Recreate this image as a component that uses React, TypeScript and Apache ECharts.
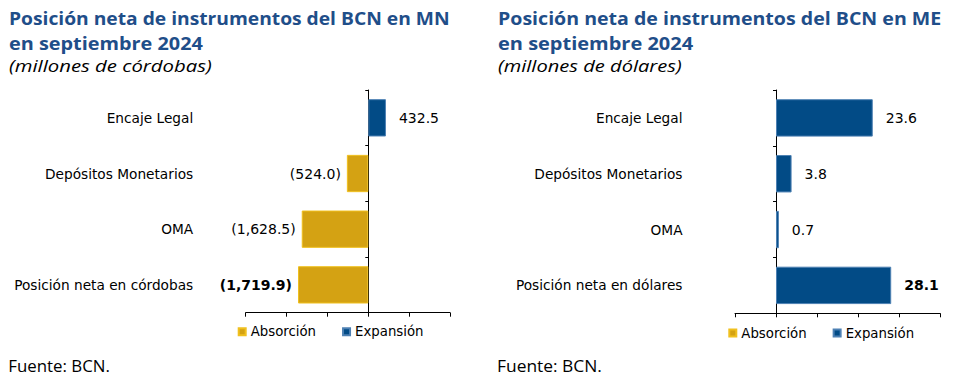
import React, { useEffect, useRef } from "react";
import * as echarts from "echarts";

// ---- data ----
const categoriesMN = ["Encaje Legal", "Depósitos Monetarios", "OMA", "Posición neta en córdobas"];
const valuesMN = [432.5, -524.0, -1628.5, -1719.9];
const categoriesME = ["Encaje Legal", "Depósitos Monetarios", "OMA", "Posición neta en dólares"];
const valuesME = [23.6, 3.8, 0.7, 28.1];
const legendNames = ["Absorción", "Expansión"];
const rangeMN = [-3000, 2000];
const intervalMN = 1000;
const rangeME = [-10, 40];
const intervalME = 10;
const titleMN = ["Posición neta de instrumentos del BCN en MN", "en septiembre 2024"];
const subtitleMN = "(millones de córdobas)";
const titleME = ["Posición neta de instrumentos del BCN en ME", "en septiembre 2024"];
const subtitleME = "(millones de dólares)";
const sourceText = "Fuente: BCN.";

const GOLD = "#d4a213";
const GOLD_BORDER = "#f0c01e";
const BLUE = "#024b86";
const BLUE_BORDER = "#4d80b3";
const TITLE_BLUE = "#1f4e89";
const LABEL_FONT = "'DejaVu Sans', Verdana, sans-serif";
const TITLE_FONT = "'Open Sans', sans-serif";

function fmt(v: number): string {
  const s = Math.abs(v).toLocaleString("en-US", { minimumFractionDigits: 1, maximumFractionDigits: 1 });
  return v < 0 ? "(" + s + ")" : s;
}

let measureCtx: CanvasRenderingContext2D | null = null;
function fitScale(text: string, font: string, target: number): number {
  if (!measureCtx) measureCtx = document.createElement("canvas").getContext("2d");
  if (!measureCtx) return 1;
  measureCtx.font = font;
  const w = measureCtx.measureText(text).width;
  return w > 0 ? target / w : 1;
}

function textEl(text: string, x: number, y: number, size: number, weight: string, style: string, color: string, targetW: number) {
  const font = `${style} ${weight} ${size}px ${TITLE_FONT}`;
  return {
    type: "text",
    x,
    y,
    scaleX: fitScale(text, font, targetW),
    style: {
      text,
      fontFamily: TITLE_FONT,
      fontSize: size,
      fontWeight: weight,
      fontStyle: style,
      fill: color,
      align: "left",
      verticalAlign: "middle",
    },
  };
}

function buildSeries(values: number[], gridIdx: number) {
  const last = values.length - 1;
  const labelBase = {
    show: true,
    fontFamily: LABEL_FONT,
    fontSize: 14,
    color: "#000",
    formatter: (p: any) => fmt(p.value),
  };
  const mk = (keep: (v: number) => boolean) =>
    values.map((v, j) =>
      keep(v) ? { value: v, label: j === last ? { fontWeight: "bold" } : {} } : "-"
    );
  return [
    {
      name: legendNames[0],
      type: "bar",
      xAxisIndex: gridIdx,
      yAxisIndex: gridIdx * 2,
      stack: "s" + gridIdx,
      barCategoryGap: "33%",
      itemStyle: { color: GOLD, borderColor: GOLD_BORDER, borderWidth: 1 },
      label: { ...labelBase, position: "left", distance: 6 },
      data: mk((v) => v < 0),
    },
    {
      name: legendNames[1],
      type: "bar",
      xAxisIndex: gridIdx,
      yAxisIndex: gridIdx * 2,
      stack: "s" + gridIdx,
      barCategoryGap: "33%",
      itemStyle: { color: BLUE, borderColor: BLUE_BORDER, borderWidth: 1 },
      label: { ...labelBase, position: "right", distance: 13 },
      data: mk((v) => v >= 0),
    },
  ];
}

function buildXAxis(gridIndex: number, range: number[], interval: number) {
  return {
    type: "value",
    gridIndex,
    min: range[0],
    max: range[1],
    interval,
    axisLine: { show: true, lineStyle: { color: "#000", width: 1 } },
    axisTick: { show: true, length: 4, lineStyle: { color: "#000" } },
    axisLabel: { show: false },
    splitLine: { show: false },
  };
}

function buildYAxes(gridIndex: number, cats: string[]) {
  return [
    {
      type: "category",
      gridIndex,
      data: cats,
      inverse: true,
      position: "left",
      axisLine: { show: false, onZero: false },
      axisTick: { show: false },
      axisLabel: { margin: 52.5, fontFamily: LABEL_FONT, fontSize: 13.7, color: "#000" },
    },
    {
      type: "category",
      gridIndex,
      data: cats,
      inverse: true,
      position: "left",
      axisLine: { show: true, onZero: true, lineStyle: { color: "#000", width: 1 } },
      axisTick: { show: true, length: 3, lineStyle: { color: "#000" } },
      axisLabel: { show: false },
    },
  ];
}

function buildLegend(left: number, top: number) {
  return {
    left,
    top,
    orient: "horizontal",
    padding: 0,
    itemWidth: 7,
    itemHeight: 7,
    itemGap: 26,
    icon: "rect",
    data: legendNames,
    selectedMode: false,
    textStyle: { fontFamily: LABEL_FONT, fontSize: 13.3, color: "#000", lineHeight: 14 },
  };
}

export default function App() {
  const ref = useRef<HTMLDivElement>(null);
  useEffect(() => {
    if (!ref.current) return;
    const chart = echarts.init(ref.current, undefined, { renderer: "svg" });
    const graphics = [
      textEl(titleMN[0], 9, 17.8, 18.5, "bold", "normal", TITLE_BLUE, 441),
      textEl(titleMN[1], 9, 42.8, 18.5, "bold", "normal", TITLE_BLUE, 194),
      textEl(subtitleMN, 9, 65.8, 16, "normal", "italic", "#000", 203),
      textEl(titleME[0], 498, 17.8, 18.5, "bold", "normal", TITLE_BLUE, 443.7),
      textEl(titleME[1], 498, 42.8, 18.5, "bold", "normal", TITLE_BLUE, 195.3),
      textEl(subtitleME, 498, 65.8, 16, "normal", "italic", "#000", 183.7),
      textEl(sourceText, 8.3, 365.3, 16.5, "normal", "normal", "#000", 101.7),
      textEl(sourceText, 497, 365.3, 16.5, "normal", "normal", "#000", 105),
    ];
    chart.setOption({
      animation: false,
      backgroundColor: "#fff",
      grid: [
        { left: 245.7, top: 90, width: 204.3, height: 222.7, containLabel: false },
        { left: 735, top: 90, width: 205, height: 223.3, containLabel: false },
      ],
      xAxis: [buildXAxis(0, rangeMN, intervalMN), buildXAxis(1, rangeME, intervalME)],
      yAxis: [...buildYAxes(0, categoriesMN), ...buildYAxes(1, categoriesME)],
      legend: [buildLegend(237.7, 324.7), buildLegend(728.3, 326)],
      series: [...buildSeries(valuesMN, 0), ...buildSeries(valuesME, 1)],
      graphic: graphics,
    });
    return () => chart.dispose();
  }, []);
  return (
    <div
      ref={ref}
      style={{ position: "absolute", left: 0, top: 0, width: 960, height: 383 }}
    />
  );
}
